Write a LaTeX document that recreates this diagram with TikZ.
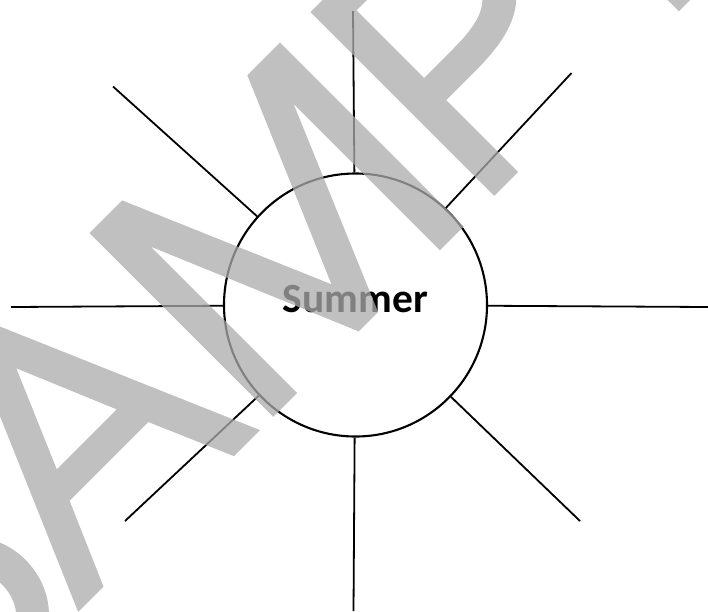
\documentclass[tikz,border=0pt]{standalone}
\usepackage{fontspec}
\usepackage{tikz}
\newfontfamily\labelfont{Carlito}
\newfontfamily\wmfont{TeX Gyre Adventor}[FakeBold=2.5]

\begin{document}
\begin{tikzpicture}[x=1pt, y=-1pt,
	sunbody/.style={circle, draw, line width=2.1pt, minimum size=263pt, inner sep=0pt},
	ray/.style={line width=1.8pt},
	wmark/.style={text=black!33, rotate=45, anchor=base, inner sep=0pt}]
	\useasboundingbox (0,0) rectangle (708,611);
	\node[sunbody] (sun) at (355.5,305) {};
	\node[font={\labelfont\bfseries\fontsize{41.5}{48}\selectfont}] (lbl) at (355.5,299) {Summer};
	% ends of the rays
	\coordinate (n) at (353,11);
	\coordinate (ne) at (571.5,73);
	\coordinate (e) at (708,307);
	\coordinate (se) at (580,521);
	\coordinate (s) at (353.5,611);
	\coordinate (sw) at (125,521);
	\coordinate (w) at (11,307);
	\coordinate (nw) at (113,86.5);
	\foreach \tip in {n,ne,e,se,s,sw,w,nw}
		\draw[ray] (sun) -- (\tip);
	% watermark
	\begin{scope}[transparency group, opacity=0.75]
		\node[wmark, font={\wmfont\fontsize{340}{340}\selectfont}] (wm) at (429,255) {SAMP\kern60pt LE};
	\end{scope}
\end{tikzpicture}
\end{document}
